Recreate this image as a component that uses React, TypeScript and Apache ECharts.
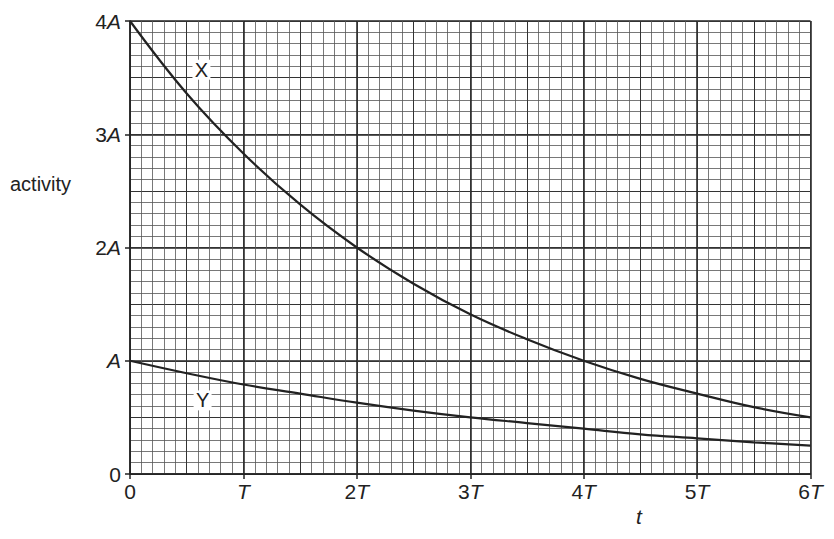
import React, { useEffect, useRef } from 'react';
import * as echarts from 'echarts';

// time in units of T, activity in units of A
const times = [0, 0.5, 1, 1.5, 2, 2.5, 3, 3.5, 4, 4.5, 5, 5.5, 6];
const activityX = [4, 3.36, 2.83, 2.38, 2.0, 1.68, 1.41, 1.19, 1.0, 0.84, 0.71, 0.59, 0.5];
const activityY = [1, 0.89, 0.79, 0.71, 0.63, 0.56, 0.5, 0.45, 0.4, 0.35, 0.315, 0.28, 0.25];

const xTickLabels = ['{n|0}', '{i|T}', '{n|2}{i|T}', '{n|3}{i|T}', '{n|4}{i|T}', '{n|5}{i|T}', '{n|6}{i|T}'];
const yTickLabels = ['{n|0}', '{i|A}', '{n|2}{i|A}', '{n|3}{i|A}', '{n|4}{i|A}'];

const curveLabels: { name: string; value: [number, number] }[] = [
  { name: 'X', value: [0.63, 3.57] },
  { name: 'Y', value: [0.64, 0.65] },
];

const FONT = '"Liberation Sans", Arial, sans-serif';
const INK = '#222';
const SIZE = 21;

export default function App() {
  const ref = useRef<HTMLDivElement | null>(null);

  useEffect(() => {
    if (!ref.current) return;
    const inst = echarts.init(ref.current, undefined, { renderer: 'svg' });

    const rich = {
      n: { fontSize: SIZE, fontFamily: FONT, color: INK },
      i: { fontSize: SIZE, fontFamily: FONT, color: INK, fontStyle: 'italic' },
    };

    inst.setOption({
      animation: false,
      backgroundColor: '#fff',
      grid: { left: 130, top: 21, width: 680.5, height: 453, containLabel: false },
      xAxis: [
        {
          type: 'value',
          min: 0,
          max: 6,
          interval: 1,
          axisLine: { show: true, lineStyle: { color: INK, width: 1.5 } },
          axisTick: { show: true, inside: false, length: 5, lineStyle: { color: INK, width: 1.5 } },
          axisLabel: {
            color: INK,
            fontSize: SIZE,
            fontFamily: FONT,
            rich,
            margin: 7,
            formatter: (v: number) => xTickLabels[Math.round(v)] ?? '',
          },
          splitLine: { show: true, lineStyle: { color: INK, width: 1.5 } },
          minorTick: { show: false, splitNumber: 10 },
          minorSplitLine: { show: true, lineStyle: { color: '#555', width: 0.8 } },
        },
        {
          type: 'value',
          min: 0,
          max: 6,
          interval: 0.5,
          show: true,
          axisLine: { show: false },
          axisTick: { show: false },
          axisLabel: { show: false },
          splitLine: { show: true, lineStyle: { color: '#333', width: 1 } },
        },
      ],
      yAxis: [
        {
          type: 'value',
          min: 0,
          max: 4,
          interval: 1,
          axisLine: { show: true, lineStyle: { color: INK, width: 1.5 } },
          axisTick: { show: true, inside: false, length: 5, lineStyle: { color: INK, width: 1.5 } },
          axisLabel: {
            color: INK,
            fontSize: SIZE,
            fontFamily: FONT,
            rich,
            margin: 9,
            formatter: (v: number) => yTickLabels[Math.round(v)] ?? '',
          },
          splitLine: { show: true, lineStyle: { color: INK, width: 1.5 } },
          minorTick: { show: false, splitNumber: 10 },
          minorSplitLine: { show: true, lineStyle: { color: '#555', width: 0.8 } },
        },
        {
          type: 'value',
          min: 0,
          max: 4,
          interval: 0.5,
          show: true,
          axisLine: { show: false },
          axisTick: { show: false },
          axisLabel: { show: false },
          splitLine: { show: true, lineStyle: { color: '#333', width: 1 } },
        },
      ],
      graphic: [
        {
          type: 'text',
          left: 10,
          top: 174,
          style: { text: 'activity', fontSize: 20, fontFamily: FONT, fill: INK },
        },
        {
          type: 'text',
          left: 636,
          top: 506,
          style: { text: 't', fontSize: SIZE, fontStyle: 'italic', fontFamily: FONT, fill: INK },
        },
      ],
      series: [
        {
          type: 'line',
          data: times.map((t, i) => [t, activityX[i]]),
          smooth: 0.4,
          showSymbol: false,
          lineStyle: { color: INK, width: 2.2 },
          z: 5,
        },
        {
          type: 'line',
          data: times.map((t, i) => [t, activityY[i]]),
          smooth: 0.4,
          showSymbol: false,
          lineStyle: { color: INK, width: 2.2 },
          z: 5,
        },
        {
          type: 'scatter',
          data: curveLabels,
          symbol: 'rect',
          symbolSize: [18, 20],
          itemStyle: { color: '#fff', opacity: 1 },
          z: 6,
          label: {
            show: true,
            position: 'inside',
            formatter: (p: any) => p.name,
            color: INK,
            opacity: 1,
            fontSize: 20,
            fontFamily: FONT,
          },
          emphasis: { disabled: true },
        },
      ],
    });

    return () => inst.dispose();
  }, []);

  return (
    <div
      ref={ref}
      style={{ position: 'fixed', left: 0, top: 0, width: 834, height: 539 }}
    />
  );
}
